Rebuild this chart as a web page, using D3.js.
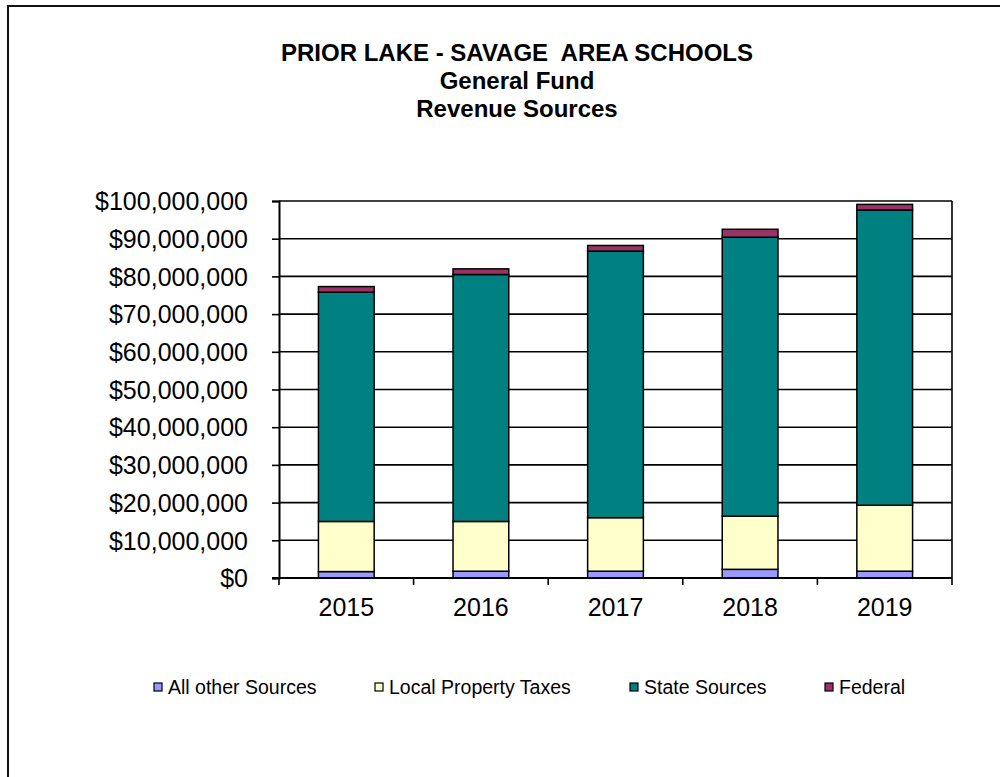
<!DOCTYPE html>
<html>
<head>
<meta charset="utf-8">
<script src="https://cdn.jsdelivr.net/npm/d3@7"></script>
<style>
  body { margin: 0; background: #fff; overflow: hidden; }
  text { font-family: Arial, "Liberation Sans", sans-serif; fill: #000; }
</style>
</head>
<body>
<svg id="chart" width="1000" height="777"></svg>
<script>
  // values in dollars
  var years = ['2015', '2016', '2017', '2018', '2019'];
  var allOther = [1700000, 1800000, 1800000, 2300000, 1800000];
  var localTaxes = [13300000, 13200000, 14200000, 14100000, 17500000];
  var stateSources = [60800000, 65500000, 70700000, 74000000, 78300000];
  var federal = [1500000, 1500000, 1500000, 2100000, 1500000];
  var seriesNames = ['All other Sources', 'Local Property Taxes', 'State Sources', 'Federal'];
  var seriesColors = ['#9999FF', '#FFFFCC', '#008080', '#993366'];
  var yTicks = [0, 10000000, 20000000, 30000000, 40000000, 50000000,
                60000000, 70000000, 80000000, 90000000, 100000000];
  var titleLines = ['PRIOR LAKE - SAVAGE\u00a0 AREA SCHOOLS', 'General Fund', 'Revenue Sources'];

  var svg = d3.select('#chart');

  // outer chart border: only the left and top edges fall inside the window
  svg.append('path')
    .attr('d', 'M8,777V6H1000')
    .attr('fill', 'none').attr('stroke', '#111').attr('stroke-width', 2);

  var plot = { left: 279, right: 952, top: 201, bottom: 578 };

  var x = d3.scaleBand()
    .domain(years)
    .range([plot.left, plot.right])
    .paddingInner(0.586)
    .paddingOuter(0.293);

  var y = d3.scaleLinear()
    .domain([0, 100000000])
    .range([plot.bottom, plot.top]);

  var rows = years.map(function(yr, i) {
    return { year: yr, s0: allOther[i], s1: localTaxes[i], s2: stateSources[i], s3: federal[i] };
  });
  var stacked = d3.stack().keys(['s0', 's1', 's2', 's3'])(rows);

  // gridlines
  svg.append('g')
    .selectAll('line')
    .data(yTicks.slice(1))
    .join('line')
    .attr('x1', plot.left).attr('x2', plot.right)
    .attr('y1', function(d) { return y(d); })
    .attr('y2', function(d) { return y(d); })
    .attr('stroke', '#000').attr('stroke-width', 1.6);

  // right plot border
  svg.append('line')
    .attr('x1', plot.right).attr('x2', plot.right)
    .attr('y1', plot.top).attr('y2', plot.bottom)
    .attr('stroke', '#000').attr('stroke-width', 1.6);

  // bars
  svg.append('g')
    .selectAll('g')
    .data(stacked)
    .join('g')
    .attr('fill', function(d, i) { return seriesColors[i]; })
    .selectAll('rect')
    .data(function(d) { return d; })
    .join('rect')
    .attr('x', function(d) { return x(d.data.year); })
    .attr('width', x.bandwidth())
    .attr('y', function(d) { return y(d[1]); })
    .attr('height', function(d) { return y(d[0]) - y(d[1]); })
    .attr('stroke', '#000').attr('stroke-width', 1.5);

  // y axis
  var yAxis = svg.append('g')
    .attr('transform', 'translate(' + plot.left + ',0)')
    .call(d3.axisLeft(y).tickValues(yTicks).tickFormat(d3.format('$,.0f')).tickSize(7).tickPadding(24));
  yAxis.select('.domain').attr('stroke', '#000').attr('stroke-width', 2);
  yAxis.selectAll('.tick line').attr('stroke', '#000').attr('stroke-width', 1.6);
  yAxis.selectAll('.tick text')
    .attr('font-size', 25).attr('font-family', 'Arial, "Liberation Sans", sans-serif')
    .attr('dy', '0.35em');

  // x axis: ticks at category boundaries
  var xg = svg.append('g');
  xg.append('line')
    .attr('x1', plot.left - 7).attr('x2', plot.right)
    .attr('y1', plot.bottom).attr('y2', plot.bottom)
    .attr('stroke', '#000').attr('stroke-width', 2);
  xg.selectAll('line.tk')
    .data(d3.range(years.length + 1))
    .join('line')
    .attr('class', 'tk')
    .attr('x1', function(i) { return plot.left + i * x.step(); })
    .attr('x2', function(i) { return plot.left + i * x.step(); })
    .attr('y1', plot.bottom).attr('y2', plot.bottom + 7)
    .attr('stroke', '#000').attr('stroke-width', 1.6);
  xg.selectAll('text')
    .data(years)
    .join('text')
    .attr('x', function(d) { return x(d) + x.bandwidth() / 2; })
    .attr('y', 616)
    .attr('text-anchor', 'middle')
    .attr('font-size', 25)
    .text(function(d) { return d; });

  // title
  svg.append('g')
    .selectAll('text')
    .data(titleLines)
    .join('text')
    .attr('x', 517)
    .attr('y', function(d, i) { return 61 + i * 28; })
    .attr('text-anchor', 'middle')
    .attr('font-size', 24)
    .attr('font-weight', 'bold')
    .text(function(d) { return d; });

  // legend
  var legendX = [154, 375, 630, 825];
  var legend = svg.append('g')
    .selectAll('g')
    .data(seriesNames)
    .join('g')
    .attr('transform', function(d, i) { return 'translate(' + legendX[i] + ',683)'; });
  legend.append('rect')
    .attr('width', 8).attr('height', 8)
    .attr('fill', function(d, i) { return seriesColors[i]; })
    .attr('stroke', '#000').attr('stroke-width', 1.2);
  legend.append('text')
    .attr('x', 14).attr('y', 11)
    .attr('font-size', 19.5)
    .text(function(d) { return d; });
</script>
</body>
</html>
